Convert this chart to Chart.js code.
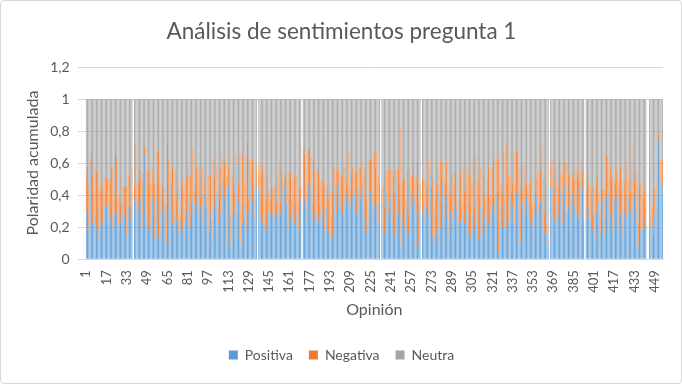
<!DOCTYPE html>
<html>
<head>
<meta charset="utf-8">
<script src="https://cdn.jsdelivr.net/npm/chart.js@4"></script>
<style>
  html, body { margin: 0; padding: 0; background: #fff; }
  #marco { position: relative; width: 680px; height: 382px; border: 1px solid #d9d9d9; border-radius: 4px; }
</style>
</head>
<body>
<div id="marco"><canvas id="grafico"></canvas></div>
<script>
// valores por opinión (null = opinión sin datos)
const positiva = [
  .30,.33,.18,.55,.64,.22,.25,.28,.20,.35,.13,.22,.30,.24,.32,.20,
  .33,.22,.35,.26,.33,.20,.28,.65,.30,.22,.18,.24,.20,.35,.28,.33,
  .15,.32,.35,.25,.33,null,.36,.12,.38,.30,.49,.38,.20,.49,.66,.28,
  .26,.18,.33,.22,.37,.30,.12,.37,.47,.14,.40,.14,.29,.25,.33,.10,
  .51,.34,.47,.20,.22,.18,.30,.25,.24,.17,.24,.30,.18,.22,.16,.30,
  .22,.37,.20,.28,.38,.30,.42,.35,.39,.26,.33,.28,.22,.40,.20,.33,
  .18,.08,.30,.12,.24,.33,.28,.41,.22,.41,.30,.47,.10,.38,.45,.09,
  .46,.26,.09,.26,.10,.30,.58,.14,.36,.08,.10,.22,.20,.35,.20,.62,
  .30,.47,.31,.36,.42,.25,.45,null,.45,.26,.40,.22,.22,.28,.18,.25,
  .29,.30,.20,.28,.26,.16,.30,.24,.34,.28,.34,.38,.45,.30,.35,.20,
  .37,.26,.24,.33,.22,.16,.28,.18,.18,.37,null,.30,.37,.24,.33,.47,
  .26,.40,.24,.34,.30,.28,.22,.24,.35,.24,.30,.24,.18,.32,.20,.16,
  .10,.20,.14,.33,.45,.28,.40,.47,.34,.35,.28,.43,.34,.40,.30,.37,
  .33,.26,.40,.43,.36,.28,.30,.45,.38,.30,.45,.26,.34,.16,.20,.33,
  .42,.33,.28,.35,.37,.34,.22,.35,null,.35,.20,.16,.40,.43,.30,.22,
  .38,.22,.43,.15,.43,.51,.28,.38,.08,.26,.33,.20,.30,.34,.16,.30,
  .43,.36,.28,.40,.30,.47,.08,.35,null,.29,.35,.24,.32,.35,.26,.53,
  .30,.14,.10,.30,.16,.10,.41,.20,.36,.47,.26,.36,.40,.20,.12,.30,
  .24,.26,.35,.20,.30,.22,.16,.24,.26,.29,.22,.35,.30,.16,.26,.14,
  .28,.30,.20,.36,.24,.12,.30,.32,.15,.22,.28,.18,.34,.23,.30,.20,
  .35,.39,.30,.40,.26,.04,.20,.34,.20,.26,.36,.20,.30,.24,.40,.22,
  .33,.22,.18,.41,.20,.43,.10,.33,.36,.27,.30,.39,.28,.35,.24,.26,
  .20,.30,.16,.39,.30,.24,.36,.58,.20,.16,.40,.16,.10,null,.45,.28,
  .45,.24,.20,.35,.26,.30,.43,.22,.36,.47,.30,.20,.33,.30,.26,.40,
  .22,.33,.28,.47,.26,.49,.30,.45,.20,null,.26,.20,.33,.24,.24,.18,
  .30,.10,.29,.22,.35,.16,.24,.36,.14,.26,.39,.24,.43,.30,.49,.20,
  .37,.26,.39,.20,.45,.28,.22,.14,.30,.18,.26,.38,.20,.30,.35,.24,
  .40,.30,.22,.08,.35,.18,.18,.30,.20,.26,null,null,.56,.20,.20,.14,
  .28,.41,.20,.74,.41,.51,.46
];
const negativa = [
  .25,.25,.28,.07,.05,.30,.15,.28,.35,.18,.30,.25,.12,.20,.18,.22,
  .18,.29,.16,.22,.24,.37,.10,.03,.34,.16,.22,.10,.18,.10,.17,.12,
  .30,.20,.18,.09,.24,null,.10,.60,.08,.19,.06,.17,.30,.05,.04,.42,
  .30,.38,.15,.25,.19,.17,.36,.08,.20,.53,.08,.26,.16,.20,.02,.25,
  .22,.29,.07,.27,.35,.15,.26,.14,.21,.10,.04,.15,.32,.24,.12,.20,
  .37,.15,.32,.08,.32,.12,.05,.22,.18,.33,.06,.26,.35,.10,.15,.06,
  .34,.11,.22,.12,.40,.18,.08,.18,.12,.06,.27,.17,.40,.22,.19,.43,
  .12,.13,.20,.28,.38,.14,.08,.15,.12,.58,.25,.44,.06,.14,.43,.12,
  .08,.15,.25,.26,.06,.12,.14,null,.10,.33,.12,.37,.32,.09,.20,.28,
  .14,.08,.25,.15,.20,.30,.06,.28,.27,.08,.22,.11,.08,.22,.04,.30,
  .18,.28,.14,.16,.31,.19,.24,.20,.26,.08,null,.39,.29,.14,.25,.22,
  .43,.24,.11,.28,.26,.10,.35,.30,.10,.24,.20,.21,.30,.06,.25,.21,
  .37,.08,.28,.26,.10,.28,.05,.09,.18,.16,.24,.15,.24,.08,.16,.30,
  .10,.28,.17,.09,.20,.26,.14,.12,.20,.08,.06,.31,.20,.22,.10,.29,
  .20,.29,.13,.32,.20,.33,.30,.12,null,.10,.26,.16,.12,.13,.26,.10,
  .18,.34,.09,.25,.12,.05,.28,.10,.74,.22,.18,.30,.06,.22,.12,.25,
  .07,.16,.33,.08,.22,.14,.28,.12,null,.22,.14,.26,.08,.10,.36,.04,
  .16,.36,.22,.08,.30,.46,.06,.41,.14,.14,.24,.12,.21,.21,.33,.10,
  .30,.29,.14,.35,.06,.05,.22,.30,.06,.29,.20,.10,.28,.38,.10,.38,
  .20,.34,.12,.28,.20,.38,.10,.25,.16,.30,.12,.22,.16,.35,.10,.20,
  .22,.24,.10,.23,.16,.59,.28,.12,.20,.41,.10,.52,.18,.30,.12,.20,
  .14,.45,.30,.26,.47,.12,.35,.26,.08,.32,.18,.08,.15,.12,.24,.08,
  .14,.06,.26,.12,.26,.10,.20,.11,.30,.14,.08,.06,.02,null,.14,.36,
  .10,.16,.38,.14,.20,.31,.12,.30,.08,.14,.30,.10,.20,.22,.10,.14,
  .28,.18,.28,.06,.24,.06,.32,.10,.05,null,.18,.35,.16,.22,.20,.10,
  .15,.35,.20,.30,.06,.14,.20,.08,.30,.17,.26,.40,.08,.28,.04,.31,
  .10,.22,.17,.30,.06,.30,.24,.10,.18,.22,.33,.12,.20,.12,.20,.48,
  .08,.26,.28,.14,.10,.30,.22,.08,.26,.10,null,null,.10,.08,.14,.02,
  .16,.04,.12,.04,.21,.10,.16
];
const neutra = [
  .45,.42,.54,.38,.31,.48,.60,.44,.45,.47,.57,.53,.58,.56,.50,.58,
  .49,.49,.49,.52,.43,.43,.62,.32,.36,.62,.60,.66,.62,.55,.55,.55,
  .55,.48,.47,.66,.43,null,.54,.28,.54,.51,.45,.45,.50,.46,.30,.30,
  .44,.44,.52,.53,.44,.53,.52,.55,.33,.33,.52,.60,.55,.55,.65,.65,
  .27,.37,.46,.53,.43,.67,.44,.61,.55,.73,.72,.55,.50,.54,.72,.50,
  .41,.48,.48,.64,.30,.58,.53,.43,.43,.41,.61,.46,.43,.50,.65,.61,
  .48,.81,.48,.76,.36,.49,.64,.41,.66,.53,.43,.36,.50,.40,.36,.48,
  .42,.61,.71,.46,.52,.56,.34,.71,.52,.34,.65,.34,.74,.51,.37,.26,
  .62,.38,.44,.38,.52,.63,.41,null,.45,.41,.48,.41,.46,.63,.62,.47,
  .57,.62,.55,.57,.54,.54,.64,.48,.39,.64,.44,.51,.47,.48,.61,.50,
  .45,.46,.62,.51,.47,.65,.48,.62,.56,.55,null,.31,.34,.62,.42,.31,
  .31,.36,.65,.38,.44,.62,.43,.46,.55,.52,.50,.55,.52,.62,.55,.63,
  .53,.72,.58,.41,.45,.44,.55,.44,.48,.49,.48,.42,.42,.52,.54,.33,
  .57,.46,.43,.48,.44,.46,.56,.43,.42,.62,.49,.43,.46,.62,.70,.38,
  .38,.38,.59,.33,.43,.33,.48,.53,null,.55,.54,.68,.48,.44,.44,.68,
  .44,.44,.48,.60,.45,.44,.44,.52,.18,.52,.49,.50,.64,.44,.72,.45,
  .50,.48,.39,.52,.48,.39,.64,.53,null,.49,.51,.50,.60,.55,.38,.43,
  .54,.50,.68,.62,.54,.44,.53,.39,.50,.39,.50,.52,.39,.59,.55,.60,
  .46,.45,.51,.45,.64,.73,.62,.46,.68,.42,.58,.55,.42,.46,.64,.48,
  .52,.36,.68,.36,.56,.50,.60,.43,.69,.48,.60,.60,.50,.42,.60,.60,
  .43,.37,.60,.37,.58,.37,.52,.54,.60,.33,.54,.28,.52,.46,.48,.58,
  .53,.33,.52,.33,.33,.45,.55,.41,.56,.41,.52,.53,.57,.53,.52,.66,
  .66,.64,.58,.49,.44,.66,.44,.31,.50,.70,.52,.78,.88,null,.41,.36,
  .45,.60,.42,.51,.54,.39,.45,.48,.56,.39,.40,.70,.47,.48,.64,.46,
  .50,.49,.44,.47,.50,.45,.38,.45,.75,null,.56,.45,.51,.54,.56,.72,
  .55,.55,.51,.48,.59,.70,.56,.56,.56,.57,.35,.36,.49,.42,.47,.49,
  .53,.52,.44,.50,.49,.42,.54,.76,.52,.60,.41,.50,.60,.58,.45,.28,
  .52,.44,.50,.78,.55,.52,.60,.62,.54,.64,null,null,.34,.72,.66,.84,
  .56,.55,.68,.22,.38,.39,.38
];

// número de opinión (1..N) y las etiquetas que se muestran en el eje X
const opiniones = positiva.map((_, i) => i + 1);
const etiquetasX = [1,17,33,49,65,81,97,113,129,145,161,177,193,209,225,241,257,273,289,305,321,337,353,369,385,401,417,433,449];
const ticksY = [0, 0.2, 0.4, 0.6, 0.8, 1, 1.2];

const gris = '#595959';
const fuente = "Lato, 'Open Sans', sans-serif";

const ctx = document.getElementById('grafico').getContext('2d');
new Chart(ctx, {
  type: 'bar',
  data: {
    labels: opiniones,
    datasets: [
      { label: 'Positiva', data: positiva, backgroundColor: '#5B9BD5' },
      { label: 'Negativa', data: negativa, backgroundColor: '#ED7D31' },
      { label: 'Neutra', data: neutra, backgroundColor: '#A5A5A5' }
    ]
  },
  options: {
    responsive: true,
    maintainAspectRatio: false,
    animation: false,
    datasets: { bar: { barPercentage: 0.7, categoryPercentage: 1 } },
    layout: { padding: { left: 19, right: 18, top: 4, bottom: 11 } },
    plugins: {
      title: {
        display: true,
        text: 'Análisis de sentimientos pregunta 1',
        color: gris,
        font: { family: fuente, size: 22.5, weight: 'normal' },
        padding: { top: 13, bottom: 22 }
      },
      legend: {
        position: 'bottom',
        labels: { color: gris, font: { family: fuente, size: 14 }, boxWidth: 9, boxHeight: 9, padding: 16 }
      },
      tooltip: { enabled: false }
    },
    scales: {
      x: {
        stacked: true,
        grid: { display: false },
        border: { color: '#d9d9d9' },
        title: { display: true, text: 'Opinión', color: gris, font: { family: fuente, size: 16 }, padding: { top: 4, bottom: 13 } },
        ticks: {
          autoSkip: false,
          maxRotation: 90,
          minRotation: 90,
          color: gris,
          font: { family: fuente, size: 13 },
          callback: function (val) {
            const n = opiniones[val];
            return etiquetasX.includes(n) ? String(n) : '';
          }
        }
      },
      y: {
        stacked: true,
        min: 0,
        max: 1.2,
        afterBuildTicks: axis => { axis.ticks = ticksY.map(v => ({ value: v })); },
        grid: { color: '#d9d9d9' },
        border: { display: false },
        title: { display: true, text: 'Polaridad acumulada', color: gris, font: { family: fuente, size: 16 }, padding: { top: 3, bottom: 0 } },
        ticks: {
          color: gris,
          padding: 8,
          font: { family: fuente, size: 14 },
          callback: v => String(Math.round(v * 10) / 10).replace('.', ',')
        }
      }
    }
  }
});
</script>
</body>
</html>
